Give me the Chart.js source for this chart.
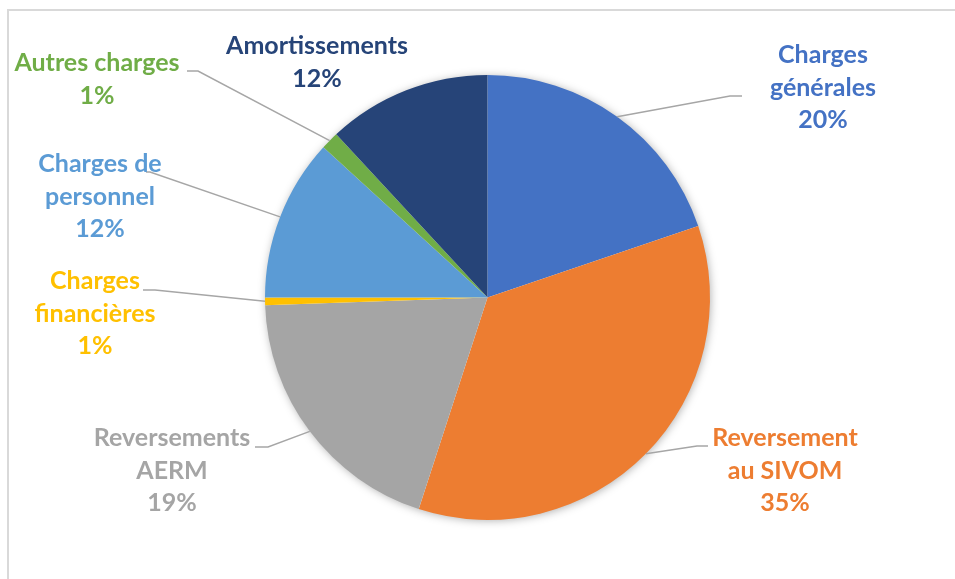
<!DOCTYPE html>
<html>
<head>
<meta charset="utf-8">
<script src="https://cdn.jsdelivr.net/npm/chart.js@4"></script>
<style>
  body { margin: 0; background: #fff; }
  canvas { display: block; }
</style>
</head>
<body>
<canvas id="pieChart" width="955" height="579"></canvas>
<script>
// Chart data (in % of total)
const categories = [
    ['Charges', 'générales'],
    ['Reversement', 'au SIVOM'],
    ['Reversements', 'AERM'],
    ['Charges', 'financières'],
    ['Charges de', 'personnel'],
    ['Autres charges'],
    ['Amortissements']
];
const shares = [19.8, 35.2, 19.45, 0.55, 11.8, 1.3, 11.9];
const sliceColors = ['#4472C4', '#ED7D31', '#A5A5A5', '#FFC000', '#5B9BD5', '#70AD47', '#264478'];

// label placement: x,y = centre of the first text line; line = elbow + end of leader line
const labelLayout = [
    { x: 823, y: 55, line: [730, 96, 742, 96] },
    { x: 785, y: 438, line: [697, 446, 708, 446] },
    { x: 172, y: 438, line: [268, 447, 255, 447] },
    { x: 95, y: 281, line: [155, 290, 143, 290] },
    { x: 100, y: 164, line: [150, 172, 146, 172] },
    { x: 97, y: 63, line: [198, 71, 187, 71] },
    { x: 317, y: 46, line: null }
];
const LINE_H = 32.5;

// ==================================================================
//                            PLUGINS
// ==================================================================
// light grey frame round the chart + soft shadow under the pie
const framePlugin = {
    id: 'frame',
    beforeDraw: (chart) => {
        const ctx = chart.ctx;
        ctx.save();
        ctx.strokeStyle = '#d9d9d9';
        ctx.lineWidth = 2;
        ctx.strokeRect(8, 10, 1000, 700);
        ctx.restore();
    },
    beforeDatasetsDraw: (chart) => {
        const arc = chart.getDatasetMeta(0).data[0];
        const ctx = chart.ctx;
        ctx.save();
        ctx.beginPath();
        ctx.arc(arc.x, arc.y, arc.outerRadius - 1, 0, Math.PI * 2);
        ctx.fillStyle = '#fff';
        ctx.shadowColor = 'rgba(0,0,0,0.35)';
        ctx.shadowBlur = 10;
        ctx.shadowOffsetX = 1;
        ctx.shadowOffsetY = 1;
        ctx.fill();
        ctx.restore();
    }
};

// data labels with leader lines
const labelPlugin = {
    id: 'pieLabels',
    afterDatasetsDraw: (chart) => {
        const ctx = chart.ctx;
        const meta = chart.getDatasetMeta(0);
        const total = shares.reduce((a, b) => a + b, 0);
        meta.data.forEach((arc, i) => {
            const pos = labelLayout[i];
            // leader line from the middle of the slice edge
            if (pos.line) {
                const mid = (arc.startAngle + arc.endAngle) / 2;
                const sx = arc.x + Math.cos(mid) * arc.outerRadius;
                const sy = arc.y + Math.sin(mid) * arc.outerRadius;
                ctx.save();
                ctx.beginPath();
                ctx.moveTo(sx, sy);
                ctx.lineTo(pos.line[0], pos.line[1]);
                ctx.lineTo(pos.line[2], pos.line[3]);
                ctx.strokeStyle = '#a6a6a6';
                ctx.lineWidth = 1.5;
                ctx.stroke();
                ctx.restore();
            }
            const lines = categories[i].concat([Math.round(shares[i] / total * 100) + '%']);
            ctx.save();
            ctx.fillStyle = sliceColors[i];
            ctx.font = 'bold 25px Lato';
            ctx.textAlign = 'center';
            ctx.textBaseline = 'middle';
            lines.forEach((t, k) => ctx.fillText(t, pos.x, pos.y + k * LINE_H));
            ctx.restore();
        });
    }
};

// ==================================================================
//                            CHART
// ==================================================================
const ctx = document.getElementById('pieChart').getContext('2d');
const pieChart = new Chart(ctx, {
    type: 'pie',
    data: {
        labels: categories,
        datasets: [{
            data: shares,
            backgroundColor: sliceColors,
            borderWidth: 0
        }]
    },
    options: {
        responsive: false,
        animation: false,
        layout: {
            padding: { left: 265, right: 245, top: 75, bottom: 59 }
        },
        plugins: {
            legend: { display: false },
            tooltip: { enabled: false }
        }
    },
    plugins: [framePlugin, labelPlugin]
});
</script>
</body>
</html>
